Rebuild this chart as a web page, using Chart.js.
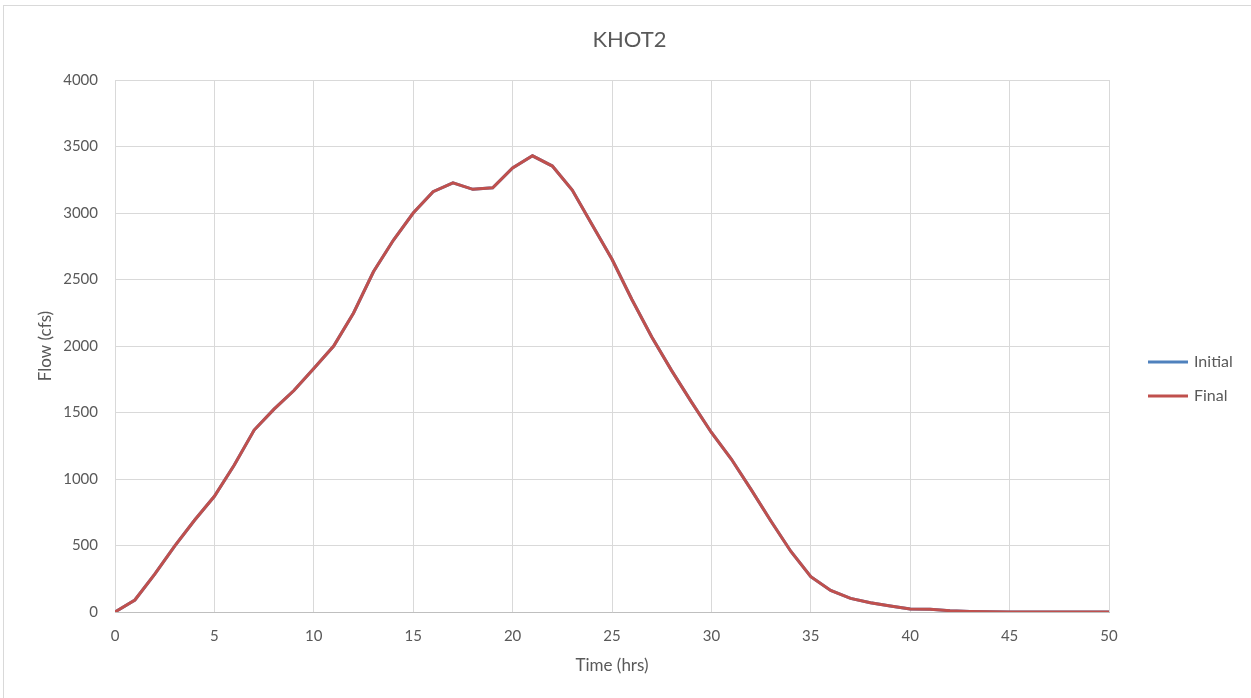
<!DOCTYPE html>
<html>
<head>
<meta charset="utf-8">
<title>KHOT2</title>
<script src="https://cdn.jsdelivr.net/npm/chart.js@4/dist/chart.umd.min.js"></script>
<style>
  html, body { margin: 0; padding: 0; background: #ffffff; }
  canvas { display: block; }
</style>
</head>
<body>
<canvas id="chart" width="1251" height="698"></canvas>
<script>
// Hydrograph for KHOT2: time in hours, flow in cfs
const hours = [0,1,2,3,4,5,6,7,8,9,10,11,12,13,14,15,16,17,18,19,20,21,22,23,24,25,26,27,28,29,30,31,32,33,34,35,36,37,38,39,40,41,42,43,44,45,46,47,48,49,50];
const initialFlow = [0,90,285,495,690,870,1105,1368,1525,1665,1830,2000,2248,2558,2795,3000,3160,3226,3178,3190,3338,3430,3353,3173,2912,2652,2350,2068,1815,1578,1350,1150,920,682,455,266,162,102,70,45,22,20,10,4,1,0,0,0,0,0,0];
const finalFlow   = [0,90,285,495,690,870,1105,1368,1525,1665,1830,2000,2248,2558,2795,3000,3160,3226,3178,3190,3338,3430,3353,3173,2912,2652,2350,2068,1815,1578,1350,1150,920,682,455,266,162,102,70,45,22,20,10,4,1,0,0,0,0,0,0];
const xTicks = [0,5,10,15,20,25,30,35,40,45,50];
const yTicks = [0,500,1000,1500,2000,2500,3000,3500,4000];
const chartTitle = 'KHOT2';

const FONT = "Lato, 'Open Sans', 'Liberation Sans', sans-serif";
const TEXT = '#595959';
const GRID = '#d9d9d9';

const toPoints = (xs, ys) => xs.map((x, i) => ({ x: x, y: ys[i] }));

// White background, outer frame and the title centred on the full width
const framePlugin = {
  id: 'frame',
  beforeDraw(chart) {
    const ctx = chart.ctx;
    ctx.save();
    ctx.fillStyle = '#ffffff';
    ctx.fillRect(0, 0, chart.width, chart.height);
    ctx.strokeStyle = '#d9d9d9';
    ctx.lineWidth = 1;
    ctx.strokeRect(3.5, 5.5, chart.width + 10, chart.height + 10);
    ctx.fillStyle = TEXT;
    ctx.font = '22px ' + FONT;
    ctx.textAlign = 'center';
    ctx.textBaseline = 'middle';
    ctx.fillText(chartTitle, chart.width / 2 + 4, 40);
    ctx.restore();
  }
};

// Legend on the right side, one line sample per dataset
const sideLegend = {
  id: 'sideLegend',
  afterDraw(chart) {
    const ctx = chart.ctx;
    const x0 = 1148, x1 = 1188, tx = 1194;
    const rows = [362, 396];
    ctx.save();
    ctx.font = '16px ' + FONT;
    ctx.textBaseline = 'middle';
    ctx.textAlign = 'left';
    chart.data.datasets.forEach((ds, i) => {
      const y = rows[i];
      ctx.strokeStyle = ds.borderColor;
      ctx.lineWidth = ds.borderWidth;
      ctx.beginPath();
      ctx.moveTo(x0, y);
      ctx.lineTo(x1, y);
      ctx.stroke();
      ctx.fillStyle = TEXT;
      ctx.fillText(ds.label, tx, y);
    });
    ctx.restore();
  }
};

new Chart(document.getElementById('chart'), {
  type: 'line',
  data: {
    datasets: [
      {
        label: 'Initial',
        data: toPoints(hours, initialFlow),
        borderColor: '#4F81BD',
        backgroundColor: '#4F81BD',
        borderWidth: 3,
        pointRadius: 0,
        tension: 0,
        order: 2
      },
      {
        label: 'Final',
        data: toPoints(hours, finalFlow),
        borderColor: '#C0504D',
        backgroundColor: '#C0504D',
        borderWidth: 3,
        pointRadius: 0,
        tension: 0,
        order: 1
      }
    ]
  },
  options: {
    responsive: false,
    animation: false,
    layout: { padding: { left: 0, right: 142, top: 80, bottom: 0 } },
    plugins: {
      legend: { display: false },
      tooltip: { enabled: false },
      title: { display: false }
    },
    scales: {
      x: {
        type: 'linear',
        min: 0,
        max: 50,
        afterBuildTicks(scale) { scale.ticks = xTicks.map(v => ({ value: v })); },
        afterFit(scale) { scale.height = 86; },
        ticks: {
          color: TEXT,
          font: { family: FONT, size: 15 },
          padding: 15,
          maxRotation: 0,
          callback: v => String(v)
        },
        grid: { color: GRID, lineWidth: 1, drawTicks: false },
        border: { color: '#bfbfbf', width: 1 },
        title: {
          display: true,
          text: 'Time (hrs)',
          color: TEXT,
          font: { family: FONT, size: 17, lineHeight: 1.2 },
          padding: { top: 0, bottom: 22 }
        }
      },
      y: {
        min: 0,
        max: 4000,
        afterBuildTicks(scale) { scale.ticks = yTicks.map(v => ({ value: v })); },
        afterFit(scale) { scale.width = 115; },
        ticks: {
          color: TEXT,
          font: { family: FONT, size: 15 },
          padding: 17,
          callback: v => String(v)
        },
        grid: { color: GRID, lineWidth: 1, drawTicks: false },
        border: { display: false },
        title: {
          display: true,
          text: 'Flow (cfs)',
          color: TEXT,
          font: { family: FONT, size: 17, lineHeight: 1.2 },
          padding: { top: 35, bottom: 0 }
        }
      }
    }
  },
  plugins: [framePlugin, sideLegend]
});
</script>
</body>
</html>
